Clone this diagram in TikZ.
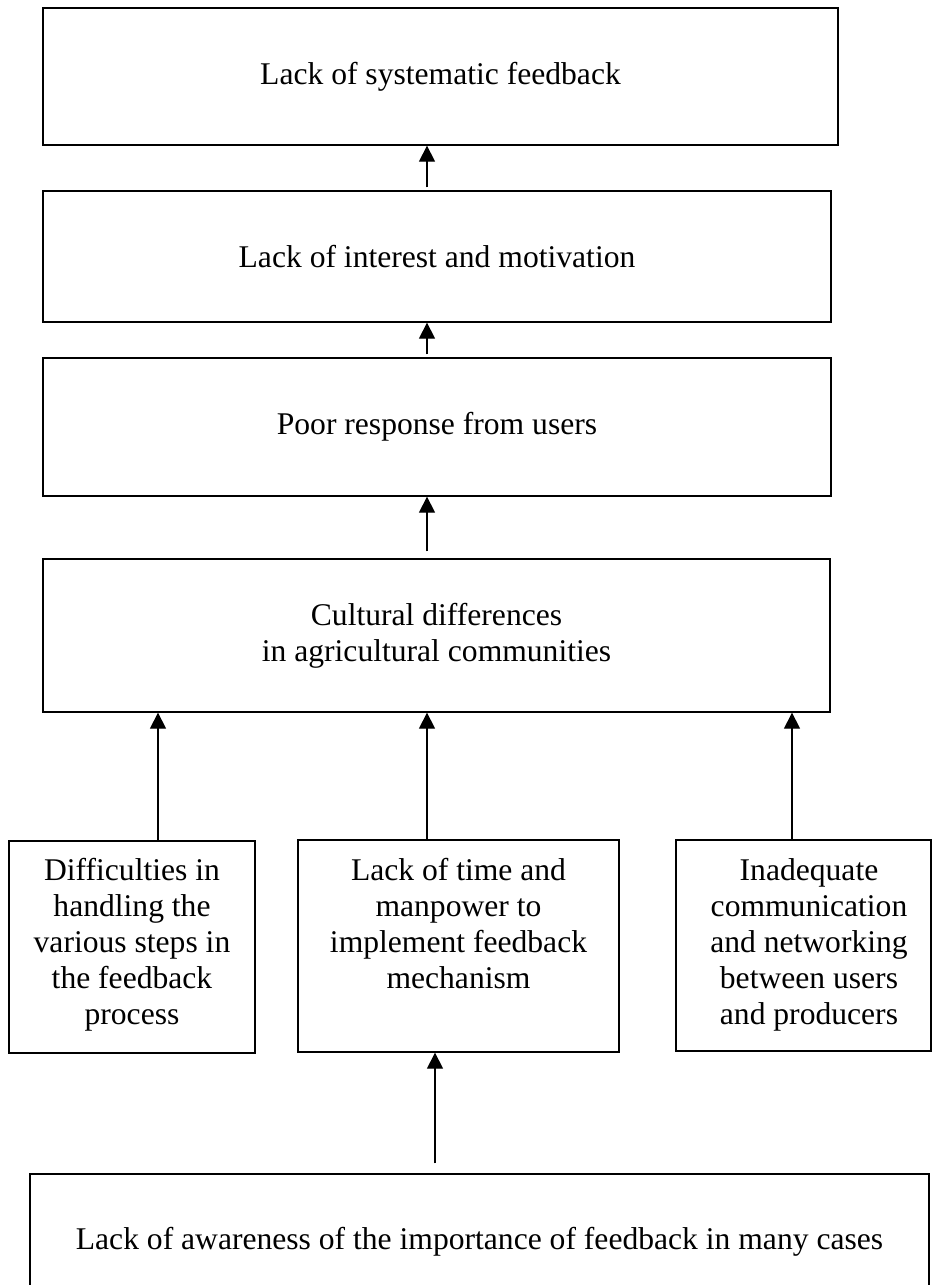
\documentclass[tikz,border=0pt]{standalone}
\usepackage{fontspec}
\setmainfont{Liberation Serif}
\usetikzlibrary{arrows.meta}
\begin{document}
\begin{tikzpicture}[x=1pt,y=-1pt,
  box/.style={draw, line width=1.3pt, inner sep=0pt, anchor=center, align=center, font=\fontsize{31.6}{36}\selectfont},
  txt/.style={align=center, inner sep=0pt, anchor=north, font=\fontsize{31.6}{36}\selectfont},
  arr/.style={line width=1.3pt, -{Triangle[width=16pt,length=16pt]}}]
\useasboundingbox (0,0) rectangle (934,1285);
\clip (0,0) rectangle (934,1285);
% main chain
\node[box, minimum width=795pt, minimum height=137pt] (b1) at (440.5,76.5) {Lack of systematic feedback};
\node[box, minimum width=788pt, minimum height=131pt] (b2) at (437,256.5) {Lack of interest and motivation};
\node[box, minimum width=788pt, minimum height=138pt] (b3) at (437,427) {Poor response from users};
\node[box, minimum width=787pt, minimum height=153pt] (b4) at (436.5,635.5) {Cultural differences\\in agricultural communities};
% small boxes
\node[box, minimum width=246pt, minimum height=212pt] (b5) at (132,947) {};
\node[box, minimum width=321pt, minimum height=212pt] (b6) at (458.5,946) {};
\node[box, minimum width=255pt, minimum height=211pt] (b7) at (803.5,945.5) {};
\node[txt] (t5) at (132,858) {Difficulties in\\handling the\\various steps in\\the feedback\\process};
\node[txt] (t6) at (458.5,858) {Lack of time and\\manpower to\\implement feedback\\mechanism};
\node[txt] (t7) at (809,858) {Inadequate\\communication\\and networking\\between users\\and producers};
% bottom box
\node[box, minimum width=899pt, minimum height=136pt] (b8) at (479.5,1242) {Lack of awareness of the importance of feedback in many cases};
% arrow columns
\coordinate (xa) at (427,0);
\coordinate (xl) at (158,0);
\coordinate (xr) at (792,0);
\coordinate (xb) at (435,0);
% connectors
\draw[arr, shorten <=3pt] (b2.north -| xa) -- (b1.south -| xa);
\draw[arr, shorten <=3pt] (b3.north -| xa) -- (b2.south -| xa);
\draw[arr, shorten <=7pt] (b4.north -| xa) -- (b3.south -| xa);
\draw[arr] (b5.north -| xl) -- (b4.south -| xl);
\draw[arr] (b6.north -| xa) -- (b4.south -| xa);
\draw[arr] (b7.north -| xr) -- (b4.south -| xr);
\draw[arr, shorten <=10pt] (b8.north -| xb) -- (b6.south -| xb);
\end{tikzpicture}
\end{document}
